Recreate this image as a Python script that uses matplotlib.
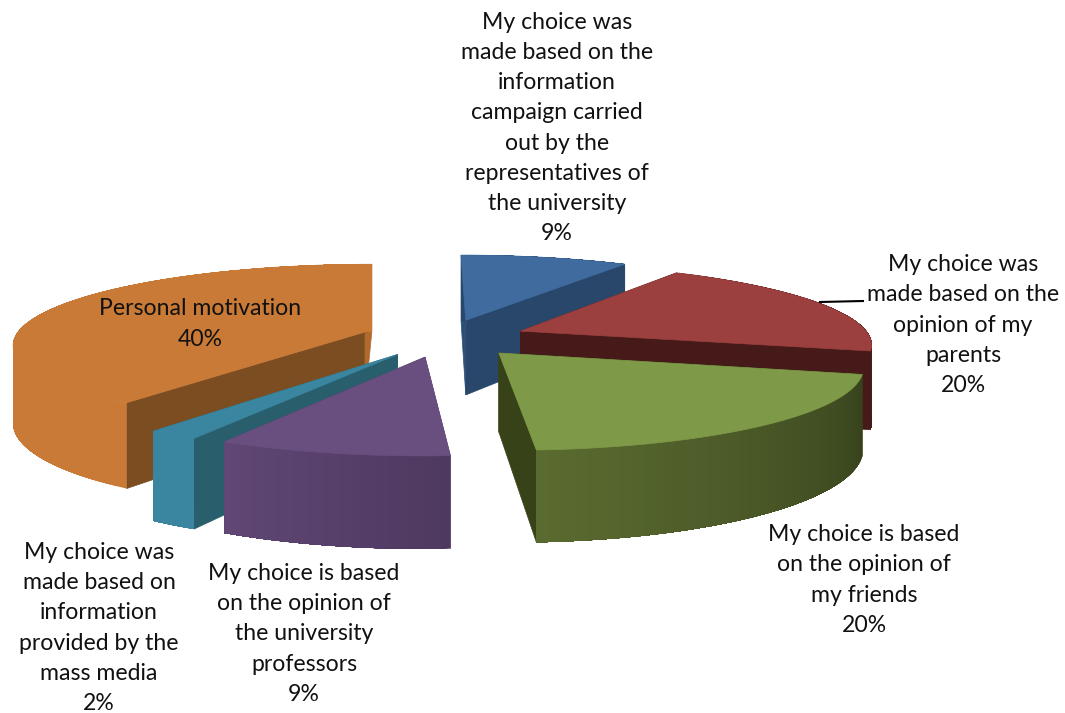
import numpy as np
import matplotlib
matplotlib.use("Agg")
import matplotlib.pyplot as plt
from matplotlib.colors import to_rgb

# data, clockwise from 12 o'clock
values = [9, 20, 20, 9, 2, 40]
names = [
    "My choice was\nmade based on the\ninformation\ncampaign carried\nout by the\nrepresentatives of\nthe university",
    "My choice was\nmade based on the\nopinion of my\nparents",
    "My choice is based\non the opinion of\nmy friends",
    "My choice is based\non the opinion of\nthe university\nprofessors",
    "My choice was\nmade based on\ninformation\nprovided by the\nmass media",
    "Personal motivation",
]
label_pos = [(557, 128), (963, 325), (864, 580), (304, 634), (99, 628), (200, 324)]

top_col = ["#3f6b9e", "#9b403e", "#7e9a48", "#694f80", "#3a859f", "#c97a37"]
side_a = ["#2c4f78", "#461a18", "#384219", "#4e3960", "#295e6d", "#7d4d22"]
side_b = ["#28476a", "#461a18", "#384219", "#4e3960", "#295e6d", "#b06a30"]
arc_a = ["#28476a", "#461a18", "#37421c", "#4e3960", "#3a859f", "#c97a37"]
arc_b = ["#28476a", "#461a18", "#5a6b30", "#604775", "#3a859f", "#c97a37"]
draw_order = [0, 1, 5, 4, 3, 2]

# fake perspective of the 3d pie, in pixels
cx, cy = 443.5, 338
R, H, D = 350, 79, 77
k = 0.14
shear = 2
explode = 0.24


def project(u, v, down=0.0):
    s = 1 / (1 + k * v)
    return cx - shear * v + R * u * s, cy - H * v * s + D * down * s


def lerp(c1, c2, t):
    a, b = np.array(to_rgb(c1)), np.array(to_rgb(c2))
    return tuple(a + (b - a) * t)


fig = plt.figure(figsize=(10.65, 7.13), dpi=100)
ax = fig.add_axes([0, 0, 1, 1])
ax.set_xlim(0, 1065)
ax.set_ylim(713, 0)
ax.axis("off")

fracs = np.array(values) / sum(values)
starts = np.concatenate([[0], np.cumsum(fracs)[:-1]]) * 2 * np.pi
ends = np.cumsum(fracs) * 2 * np.pi

for z, i in enumerate(draw_order):
    a0, a1 = starts[i], ends[i]
    mid = (a0 + a1) / 2
    ou, ov = explode * np.sin(mid), explode * np.cos(mid)
    ang = np.linspace(a0, a1, 80)
    us, vs = ou + np.sin(ang), ov + np.cos(ang)

    # radial faces
    for a, col in [(a1, side_b[i]), (a0, side_a[i])]:
        eu, ev = ou + np.sin(a), ov + np.cos(a)
        pts = [project(ou, ov), project(eu, ev), project(eu, ev, 1), project(ou, ov, 1)]
        ax.fill(*zip(*pts), color=col, lw=0.5, zorder=z * 10 + 1)

    # outer wall, each piece runs to the end of the arc so no seams show
    tx, ty = project(us, vs)
    bx, by = project(us, vs, 1)
    for j in range(len(ang) - 1):
        col = lerp(arc_a[i], arc_b[i], j / (len(ang) - 2))
        ax.fill(np.r_[tx[j:], bx[j:][::-1]], np.r_[ty[j:], by[j:][::-1]],
                color=col, lw=0, zorder=z * 10 + 2)

    # top
    xs, ys = project(np.concatenate([[ou], us]), np.concatenate([[ov], vs]))
    ax.fill(xs, ys, color=top_col[i], lw=0.5, zorder=z * 10 + 3)

# leader line of the parents label
ax.plot([820, 863], [302, 301], color="black", lw=1.5, zorder=200)

for name, v, (x, y) in zip(names, values, label_pos):
    ax.text(x, y, f"{name}\n{v}%", ha="center", va="center", multialignment="center",
            family="Lato", fontsize=16.6, linespacing=1.53, color="#111111", zorder=300)

fig.savefig("out.png", dpi=100)
